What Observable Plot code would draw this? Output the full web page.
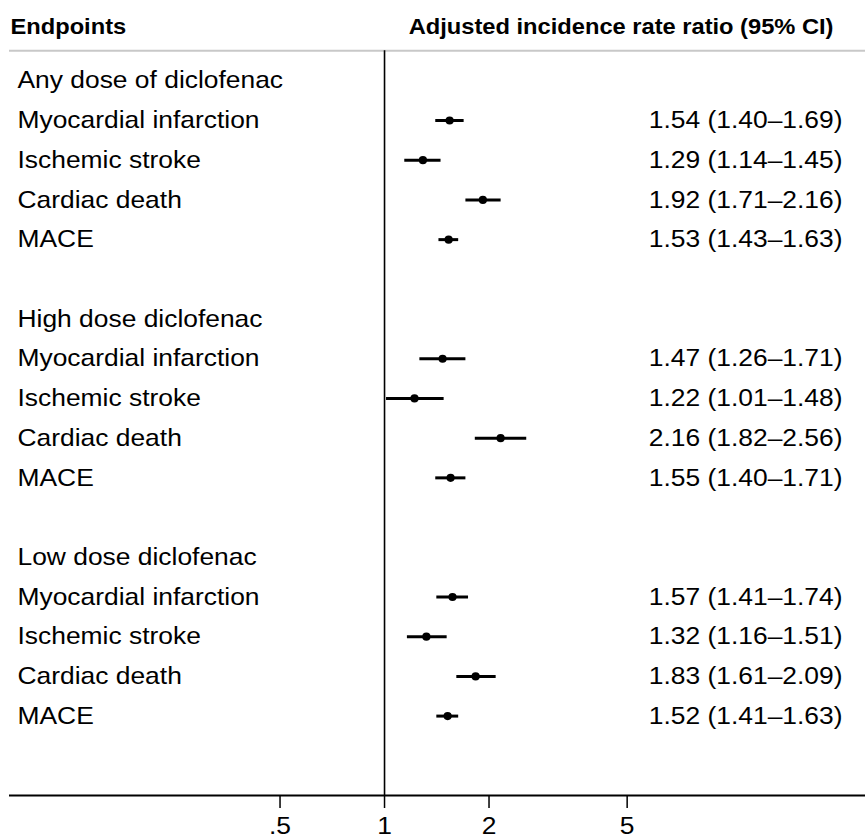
<!DOCTYPE html>
<html>
<head>
<meta charset="utf-8">
<script src="https://cdn.jsdelivr.net/npm/d3@7"></script>
<script src="https://cdn.jsdelivr.net/npm/@observablehq/plot@0.6"></script>
<style>
  html, body { margin: 0; padding: 0; background: #fff; }
  #chart svg { display: block; }
</style>
</head>
<body>
<div id="chart"></div>
<script>
// ---- Data ----
const groups = ["Any dose of diclofenac", "High dose diclofenac", "Low dose diclofenac"];
const endpoints = ["Myocardial infarction", "Ischemic stroke", "Cardiac death", "MACE"];
const irr = [
  [1.54, 1.29, 1.92, 1.53],
  [1.47, 1.22, 2.16, 1.55],
  [1.57, 1.32, 1.83, 1.52]
];
const ciLow = [
  [1.40, 1.14, 1.71, 1.43],
  [1.26, 1.01, 1.82, 1.40],
  [1.41, 1.16, 1.61, 1.41]
];
const ciHigh = [
  [1.69, 1.45, 2.16, 1.63],
  [1.71, 1.48, 2.56, 1.71],
  [1.74, 1.51, 2.09, 1.63]
];
const xTicks = [0.5, 1, 2, 5];
const xTickLabels = [".5", "1", "2", "5"];
const headerLeft = "Endpoints";
const headerRight = "Adjusted incidence rate ratio (95% CI)";

// ---- Build table ----
const rowsPerGroup = endpoints.length + 2; // group title + endpoints + blank
const headings = groups.map((g, gi) => ({label: g, row: gi * rowsPerGroup}));
const estimates = [];
groups.forEach((g, gi) => {
  endpoints.forEach((e, ei) => {
    estimates.push({
      group: g, label: e, row: gi * rowsPerGroup + 1 + ei,
      est: irr[gi][ei], lo: ciLow[gi][ei], hi: ciHigh[gi][ei],
      text: `${irr[gi][ei].toFixed(2)} (${ciLow[gi][ei].toFixed(2)}\u2013${ciHigh[gi][ei].toFixed(2)})`
    });
  });
});
const tickData = xTicks.map((v, i) => ({v, label: xTickLabels[i]}));
const axisRow = groups.length * rowsPerGroup;   // 18
const topRuleRow = -0.76;
const headerRow = -1.36;
const yTop = -2.0227;
const rowPx = 795 / (axisRow - yTop);
const tickLen = 13 / rowPx;

const FS = 24;     // body font size
const FH = 22;     // header font size
const SX_BODY = 1.1;
const SX_HEAD = 1.076;

const chart = Plot.plot({
  width: 865,
  height: 840,
  marginLeft: 9,
  marginRight: 0,
  marginTop: 0,
  marginBottom: 45,
  style: {fontFamily: "'Liberation Sans', Arial, Helvetica, sans-serif", background: "#fff", color: "#000"},
  x: {type: "log", domain: [0.0831, 24.3], axis: null},
  y: {type: "linear", domain: [yTop, axisRow], reverse: true, axis: null},
  marks: [
    // top grey separator
    Plot.ruleY([topRuleRow], {stroke: "#c8c8c8", strokeWidth: 2}),
    // null line at 1
    Plot.ruleX([1], {y1: topRuleRow, y2: axisRow, stroke: "#000", strokeWidth: 1.6}),
    // axis line and ticks
    Plot.ruleY([axisRow], {stroke: "#000", strokeWidth: 1.8}),
    Plot.ruleX(tickData, {x: "v", y1: () => axisRow, y2: () => axisRow + tickLen, stroke: "#000", strokeWidth: 1.5}),
    Plot.text(tickData, {x: "v", y: () => axisRow, text: "label", dy: 31, lineAnchor: "middle", fontSize: FS}),
    // CIs
    Plot.link(estimates, {x1: "lo", x2: "hi", y1: "row", y2: "row", stroke: "#000", strokeWidth: 3}),
    Plot.dot(estimates, {x: "est", y: "row", r: 4.1, fill: "#000", stroke: null}),
    // headers
    Plot.text([headerLeft], {frameAnchor: "left", y: () => headerRow, dx: 1, textAnchor: "start", fontSize: FH, fontWeight: "bold"}),
    Plot.text([headerRight], {frameAnchor: "right", y: () => headerRow, dx: -32, textAnchor: "end", fontSize: FH, fontWeight: "bold"}),
    // group titles and endpoint labels
    Plot.text(headings, {frameAnchor: "left", y: "row", text: "label", dx: 8, textAnchor: "start", fontSize: FS}),
    Plot.text(estimates, {frameAnchor: "left", y: "row", text: "label", dx: 8, textAnchor: "start", fontSize: FS}),
    // estimate text
    Plot.text(estimates, {frameAnchor: "right", y: "row", text: "text", dx: -23, textAnchor: "end", fontSize: FS})
  ]
});

// Horizontal stretch of the type (the reference uses wide-set lettering)
d3.select(chart).selectAll("text").each(function() {
  const t = this.textContent;
  const sx = (t === headerLeft || t === headerRight) ? SX_HEAD : SX_BODY;
  const x = +(this.getAttribute("x") || 0);
  this.setAttribute("x", x / sx);
  const tr = this.getAttribute("transform") || "";
  this.setAttribute("transform", `${tr} scale(${sx},1)`.trim());
});

document.getElementById("chart").appendChild(chart);
</script>
</body>
</html>
